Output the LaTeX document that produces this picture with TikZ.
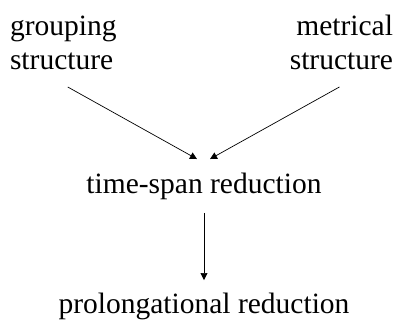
\documentclass[tikz,border=0pt]{standalone}
\usepackage{fontspec}
\setmainfont{Liberation Serif}
\usetikzlibrary{arrows.meta}
\tikzset{
  label/.style={inner sep=0pt, outer sep=0pt, font={\fontsize{29.5}{34}\selectfont}},
  arr/.style={-{Triangle[length=7pt,width=7pt]}, line width=0.7pt}
}
\begin{document}
\begin{tikzpicture}[x=1pt,y=-1pt]
  \useasboundingbox (0,0) rectangle (399,321);
  % top row: the two input structures
  \node[label, align=left, anchor=south west] (gs) at (10,70) {grouping\\structure};
  \node[label, align=right, anchor=south east] (ms) at (393,70) {metrical\\structure};
  % middle and bottom reductions
  \node[label, anchor=base] (ts) at (204,193) {time-span reduction};
  \node[label, anchor=base] (pr) at (204,313) {prolongational reduction};
  % connectors
  \draw[arr] ([xshift=4.5pt,yshift=-17pt]gs.south) -- ([xshift=-7pt,yshift=13.5pt]ts.north);
  \draw[arr] ([xshift=-2pt,yshift=-17pt]ms.south) -- ([xshift=6pt,yshift=13.5pt]ts.north);
  \draw[arr] ([yshift=-13.5pt]ts.south) -- ([yshift=12.5pt]pr.north);
\end{tikzpicture}
\end{document}
